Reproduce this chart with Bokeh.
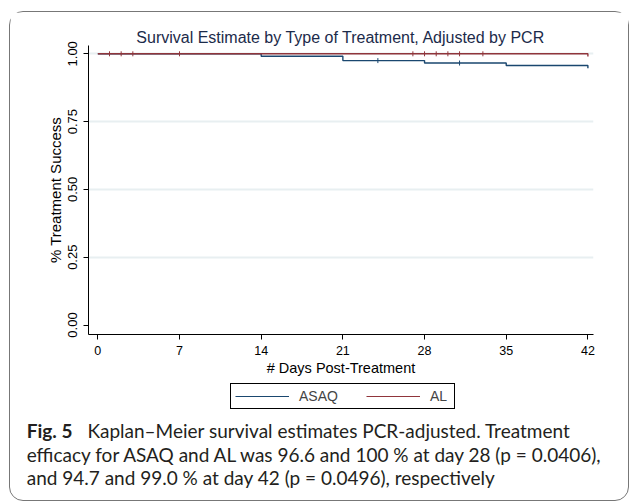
from bokeh.plotting import figure
from bokeh.layouts import column
from bokeh.models import (Range1d, FixedTicker, Legend, LegendItem,
                          NumeralTickFormatter, Div)
from bokeh.embed import file_html
from bokeh.resources import INLINE
import numpy as np

# ---- data ----
x_ticks = [0, 7, 14, 21, 28, 35, 42]
y_ticks = [0.0, 0.25, 0.5, 0.75, 1.0]
grid_ticks = [0.25, 0.5, 0.75, 1.0]

asaq_days = [0, 14, 21, 28, 35, 42]
asaq_surv = [1.0, 0.991, 0.975, 0.966, 0.957, 0.947]
al_days = [0, 42]
al_surv = [1.0, 0.990]
asaq_censor = [24, 31]
al_censor = [1, 2, 3, 7, 27, 28, 29, 30, 31, 33]

title_text = "Survival Estimate by Type of Treatment, Adjusted by PCR"
x_label = "# Days Post-Treatment"
y_label = "% Treatment Success"
series_names = ["ASAQ", "AL"]
caption_bold = "Fig. 5"
caption_lines = [
    "Kaplan\u2013Meier survival estimates PCR-adjusted. Treatment",
    "efficacy for ASAQ and AL was 96.6 and 100 % at day 28 (p = 0.0406),",
    "and 94.7 and 99.0 % at day 42 (p = 0.0496), respectively",
]

ASAQ_COLOR = "#1a476f"
AL_COLOR = "#90353b"
FONT = "Liberation Sans"

# ---- chart ----
p = figure(width=618, height=370, x_range=Range1d(-0.8, 42.48),
           y_range=Range1d(-0.035, 1.0306),
           min_border_left=78, min_border_right=35, min_border_top=33,
           min_border_bottom=48, output_backend="svg", toolbar_location=None,
           title=title_text)
p.outline_line_color = None
p.background_fill_color = "white"
p.border_fill_color = "white"
p.title.align = "center"
p.title.text_font = FONT
p.title.text_font_style = "normal"
p.title.text_font_size = "16px"
p.title.text_color = "#1c2b4a"
p.title.standoff = 0

p.xaxis.ticker = FixedTicker(ticks=x_ticks)
p.yaxis.ticker = FixedTicker(ticks=y_ticks)
p.yaxis.formatter = NumeralTickFormatter(format="0.00")
for ax in (p.xaxis[0], p.yaxis[0]):
    ax.axis_line_color = "black"
    ax.axis_line_width = 1
    ax.major_tick_in = 0
    ax.major_tick_out = 5
    ax.major_tick_line_color = "black"
    ax.minor_tick_line_color = None
    ax.major_label_text_font = FONT
    ax.major_label_text_color = "black"
    ax.axis_label_text_font = FONT
    ax.axis_label_text_font_style = "normal"
    ax.axis_label_text_color = "black"
    ax.major_label_standoff = 6
p.xaxis.major_label_text_font_size = "12.5px"
p.yaxis.major_label_text_font_size = "13px"
p.yaxis.major_label_orientation = "vertical"
p.xaxis.axis_label = x_label
p.yaxis.axis_label = y_label
p.xaxis.axis_label_text_font_size = "14.5px"
p.yaxis.axis_label_text_font_size = "15px"
p.xaxis.axis_label_standoff = 2
p.yaxis.axis_label_standoff = 2

p.xgrid.grid_line_color = None
p.ygrid.ticker = FixedTicker(ticks=grid_ticks)
p.ygrid.grid_line_color = "#e8eff1"
p.ygrid.grid_line_width = 2

p.step(asaq_days, asaq_surv, mode="after", line_color=ASAQ_COLOR, line_width=1.4)
p.step(al_days, al_surv, mode="after", line_color=AL_COLOR, line_width=1.4)

def surv_at(days, surv, t):
    idx = np.searchsorted(np.array(days), np.array(t), side="right") - 1
    return list(np.array(surv)[idx])

p.scatter(asaq_censor, surv_at(asaq_days, asaq_surv, asaq_censor), marker="dash",
          angle=np.pi / 2, size=5, line_color=ASAQ_COLOR, line_width=1)
p.scatter(al_censor, surv_at(al_days, al_surv, al_censor), marker="dash",
          angle=np.pi / 2, size=5, line_color=AL_COLOR, line_width=1)

# ---- legend strip (frame aligned with the chart; series kept out of view) ----
lg = figure(width=618, height=34, x_range=Range1d(-0.8, 42.48), y_range=Range1d(5, 6),
            min_border_left=78, min_border_right=35, min_border_top=0,
            min_border_bottom=0, output_backend="svg", toolbar_location=None)
lg.axis.visible = False
lg.grid.visible = False
lg.outline_line_color = None
lg.background_fill_color = "white"
lg.border_fill_color = "white"
k_asaq = lg.step(asaq_days, asaq_surv, mode="after", line_color=ASAQ_COLOR, line_width=1.2)
k_al = lg.step(al_days, al_surv, mode="after", line_color=AL_COLOR, line_width=1.2)
legend = Legend(items=[LegendItem(label=series_names[0], renderers=[k_asaq]),
                       LegendItem(label=series_names[1], renderers=[k_al])],
                orientation="horizontal", location=(142, 7),
                border_line_color="black", border_line_width=1, border_line_alpha=1,
                background_fill_color="white", background_fill_alpha=1,
                glyph_width=54, glyph_height=14, label_height=14, label_standoff=10,
                spacing=28, padding=4, margin=0,
                label_text_font=FONT, label_text_font_size="14px")
lg.add_layout(legend, "center")

# ---- caption ----
cap_html = ('<div style="font-family: Lato, sans-serif; font-size: 19px; '
            'line-height: 23.5px; color: #231f20; white-space: nowrap; '
            'padding-left: 16.7px; padding-top: 3px; margin: 0;">'
            '<b>' + caption_bold + '</b>'
            '<span style="display: inline-block; width: 15px;"></span>'
            + caption_lines[0] + '<br>' + caption_lines[1] + '<br>'
            + caption_lines[2] + '</div>')
cap = Div(text=cap_html, width=618, height=84, margin=0)

layout = column(p, lg, cap, margin=(11, 0, 0, 9),
                styles={"border": "1px solid #777777", "border-radius": "14px"})

open("out.html", "w").write(file_html(layout, INLINE))
